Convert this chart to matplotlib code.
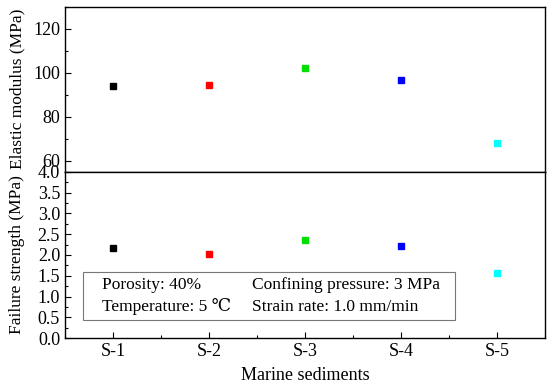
import matplotlib
matplotlib.use("Agg")
import matplotlib.pyplot as plt
from matplotlib.patches import Rectangle
from matplotlib.ticker import MultipleLocator

samples = ["S-1", "S-2", "S-3", "S-4", "S-5"]
modulus = [93.8, 94.3, 102.3, 96.5, 68.3]
strength = [2.16, 2.02, 2.35, 2.21, 1.57]
colors = ["#000000", "#ff0000", "#00e000", "#0000ff", "#00ffff"]

plt.rcParams["font.family"] = ["Liberation Serif", "DejaVu Serif"]
plt.rcParams["font.size"] = 12.5
plt.rcParams["xtick.direction"] = "in"
plt.rcParams["ytick.direction"] = "in"

fig = plt.figure(figsize=(5.5, 3.89), dpi=100)
ax1 = fig.add_axes([0.118, 0.558, 0.873, 0.425])
ax2 = fig.add_axes([0.118, 0.131, 0.873, 0.427])

x = list(range(1, len(samples) + 1))
for xi, m, s, c in zip(x, modulus, strength, colors):
    ax1.plot(xi, m, "s", color=c, ms=5)
    ax2.plot(xi, s, "s", color=c, ms=5)

ax1.set_xlim(0.5, 5.5)
ax1.set_ylim(55, 130)
ax1.yaxis.set_minor_locator(MultipleLocator(10))
ax1.set_yticks([60, 80, 100, 120])
ax1.tick_params(axis="x", which="both", bottom=False, labelbottom=False)
ax1.set_ylabel("Elastic modulus (MPa)", fontsize=12.5)

ax2.set_xlim(0.5, 5.5)
ax2.set_ylim(0, 4.0)
ax2.yaxis.set_major_locator(MultipleLocator(0.5))
ax2.yaxis.set_minor_locator(MultipleLocator(0.25))
ax2.yaxis.set_major_formatter(plt.FormatStrFormatter("%.1f"))
ax2.set_xticks(x)
ax2.set_xticklabels(samples)
ax2.xaxis.set_minor_locator(MultipleLocator(0.5))
ax2.set_xlabel("Marine sediments", fontsize=13, labelpad=5)
ax2.set_ylabel("Failure strength (MPa)", fontsize=12.5)

for ax in (ax1, ax2):
    ax.tick_params(which="major", length=4, width=0.8, labelsize=13)
    ax.tick_params(which="minor", length=2.5, width=0.8)
    for sp in ax.spines.values():
        sp.set_linewidth(1.0)
ax1.yaxis.set_label_coords(-0.083, 0.5)
ax2.yaxis.set_label_coords(-0.083, 0.5)

ax2.add_patch(Rectangle((0.0375, 0.108), 0.775, 0.29, transform=ax2.transAxes,
                        fill=False, edgecolor="#777777", linewidth=0.8))
ax2.text(0.077, 0.32, "Porosity: 40%", transform=ax2.transAxes, va="center", fontsize=12.5)
ax2.text(0.39, 0.32, "Confining pressure: 3 MPa", transform=ax2.transAxes, va="center", fontsize=12.5)
ax2.text(0.077, 0.187, "Temperature: 5 \u2103", transform=ax2.transAxes, va="center", fontsize=12.5)
ax2.text(0.39, 0.187, "Strain rate: 1.0 mm/min", transform=ax2.transAxes, va="center", fontsize=12.5)

fig.savefig("out.png", dpi=100)
